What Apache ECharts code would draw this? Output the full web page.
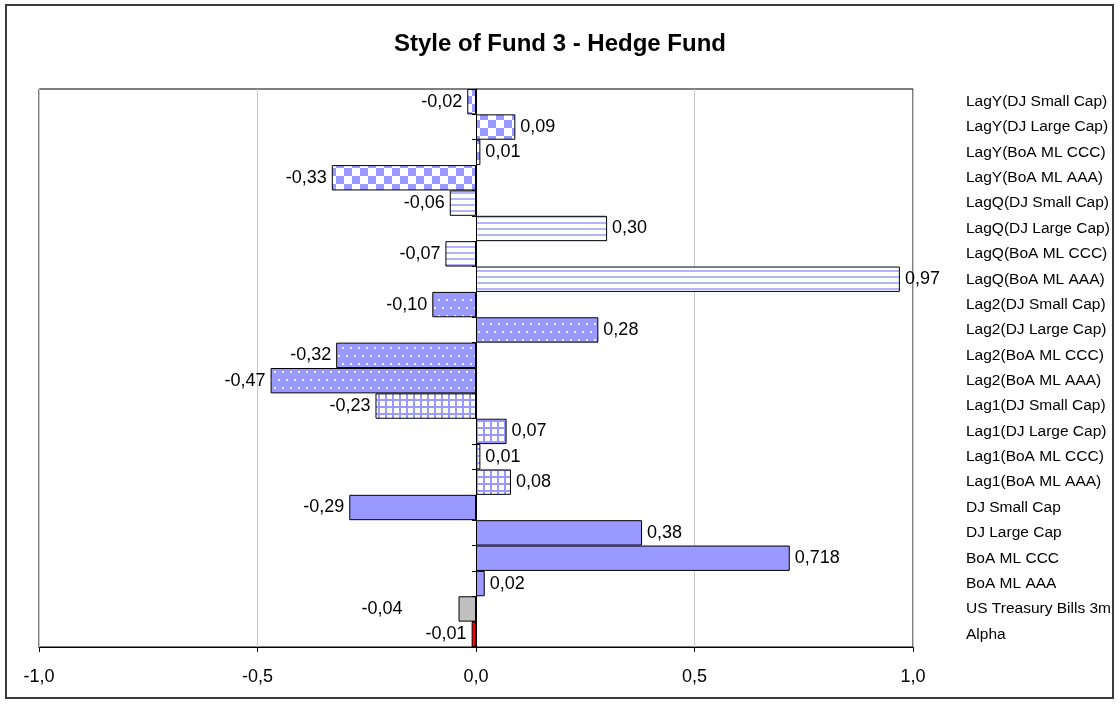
<!DOCTYPE html>
<html>
<head>
<meta charset="utf-8">
<script src="https://cdn.jsdelivr.net/npm/echarts@6/dist/echarts.min.js"></script>
<style>
  html, body { margin: 0; padding: 0; background: #fff; }
  #chart { width: 1120px; height: 704px; }
</style>
</head>
<body>
<div id="chart"></div>
<script>
// Style regression coefficients of Fund 3, top row first
const categories = [
  'LagY(DJ Small Cap)', 'LagY(DJ Large Cap)', 'LagY(BoA ML CCC)', 'LagY(BoA ML AAA)',
  'LagQ(DJ Small Cap)', 'LagQ(DJ Large Cap)', 'LagQ(BoA ML CCC)', 'LagQ(BoA ML AAA)',
  'Lag2(DJ Small Cap)', 'Lag2(DJ Large Cap)', 'Lag2(BoA ML CCC)', 'Lag2(BoA ML AAA)',
  'Lag1(DJ Small Cap)', 'Lag1(DJ Large Cap)', 'Lag1(BoA ML CCC)', 'Lag1(BoA ML AAA)',
  'DJ Small Cap', 'DJ Large Cap', 'BoA ML CCC', 'BoA ML AAA',
  'US Treasury Bills 3m', 'Alpha'
];
const values = [
  -0.02, 0.09, 0.01, -0.33,
  -0.06, 0.30, -0.07, 0.97,
  -0.10, 0.28, -0.32, -0.47,
  -0.23, 0.07, 0.01, 0.08,
  -0.29, 0.38, 0.718, 0.02,
  -0.04, -0.01
];
// fill style of each bar
const fills = [
  'checker', 'checker', 'checker', 'checker',
  'stripes', 'stripes', 'stripes', 'stripes',
  'dots', 'dots', 'dots', 'dots',
  'grid', 'grid', 'grid', 'grid',
  'solid', 'solid', 'solid', 'solid',
  'gray', 'red'
];
const xTicks = [-1, -0.5, 0, 0.5, 1];

const BLUE = '#9999ff';

function tile(w, h, draw) {
  const c = document.createElement('canvas');
  c.width = w; c.height = h;
  draw(c.getContext('2d'));
  return { image: c, repeat: 'repeat' };
}

const patterns = {
  checker: tile(16, 16, g => {
    g.fillStyle = '#fff'; g.fillRect(0, 0, 16, 16);
    g.fillStyle = BLUE; g.fillRect(0, 0, 8, 8); g.fillRect(8, 8, 8, 8);
  }),
  stripes: tile(6, 6, g => {
    g.fillStyle = '#fff'; g.fillRect(0, 0, 6, 6);
    g.fillStyle = '#b3b3ff'; g.fillRect(0, 0, 6, 2);
  }),
  dots: tile(8, 16, g => {
    g.fillStyle = BLUE; g.fillRect(0, 0, 8, 16);
    g.fillStyle = 'rgba(255,255,255,0.85)';
    g.fillRect(2, 3, 2, 2); g.fillRect(6, 11, 2, 2);
  }),
  grid: tile(7, 7, g => {
    g.fillStyle = '#fff'; g.fillRect(0, 0, 7, 7);
    g.fillStyle = BLUE; g.fillRect(0, 0, 7, 2); g.fillRect(0, 0, 2, 7);
  }),
  solid: BLUE,
  gray: '#c0c0c0',
  red: '#ff0000'
};

function fmt(v) {
  let s = v.toFixed(2);
  if (Math.abs(parseFloat(s) - v) > 1e-9) s = v.toFixed(3);
  return s.replace('.', ',');
}

const FONT = 'Liberation Sans, Arial, sans-serif';

const data = values.map((v, i) => ({
  value: v,
  itemStyle: { color: patterns[fills[i]] },
  label: {
    position: v < 0 ? 'left' : 'right',
    // the T-bill label sits well clear of its short bar
    distance: categories[i] === 'US Treasury Bills 3m' ? 56 : 5
  }
}));

const chart = echarts.init(document.getElementById('chart'), null, { renderer: 'canvas' });
chart.setOption({
  animation: false,
  backgroundColor: '#fff',
  title: {
    text: 'Style of Fund 3 - Hedge Fund',
    left: 'center',
    top: 27,
    textStyle: { fontFamily: FONT, fontWeight: 'bold', fontSize: 24, color: '#000' }
  },
  graphic: [{
    type: 'rect',
    shape: { x: 6, y: 5, width: 1107, height: 693 },
    style: { fill: 'none', stroke: '#3a3a3a', lineWidth: 2 },
    silent: true
  }],
  grid: {
    left: 39, right: 207, top: 89, bottom: 57,
    show: true, borderColor: '#000', borderWidth: 1, backgroundColor: 'transparent'
  },
  xAxis: {
    type: 'value',
    min: xTicks[0],
    max: xTicks[xTicks.length - 1],
    interval: 0.5,
    axisLine: { show: true, lineStyle: { color: '#000', width: 1 } },
    axisTick: { show: true, length: 5, lineStyle: { color: '#000' } },
    axisLabel: {
      margin: 21, fontFamily: FONT, fontSize: 18, color: '#000',
      formatter: v => v.toFixed(1).replace('.', ',')
    },
    splitLine: { show: true, lineStyle: { color: '#c8c8c8', width: 1 } }
  },
  yAxis: [{
    type: 'category',
    data: categories,
    inverse: true,
    axisLine: { show: true, onZero: true, lineStyle: { color: '#000', width: 1 } },
    axisTick: { show: true, length: 4, lineStyle: { color: '#000' } },
    axisLabel: { show: false },
    splitLine: { show: false }
  }, {
    type: 'category',
    data: categories,
    inverse: true,
    position: 'right',
    axisLine: { show: false, onZero: false },
    axisTick: { show: false },
    axisLabel: { margin: 53, align: 'left', fontFamily: FONT, fontSize: 15.5, color: '#000' },
    splitLine: { show: false }
  }],
  series: [{
    type: 'bar',
    yAxisIndex: 0,
    data: data,
    barWidth: '100%',
    itemStyle: { borderColor: '#000', borderWidth: 1 },
    label: {
      show: true,
      fontFamily: FONT,
      fontSize: 18,
      color: '#000',
      formatter: p => fmt(p.value)
    }
  }]
});
</script>
</body>
</html>
